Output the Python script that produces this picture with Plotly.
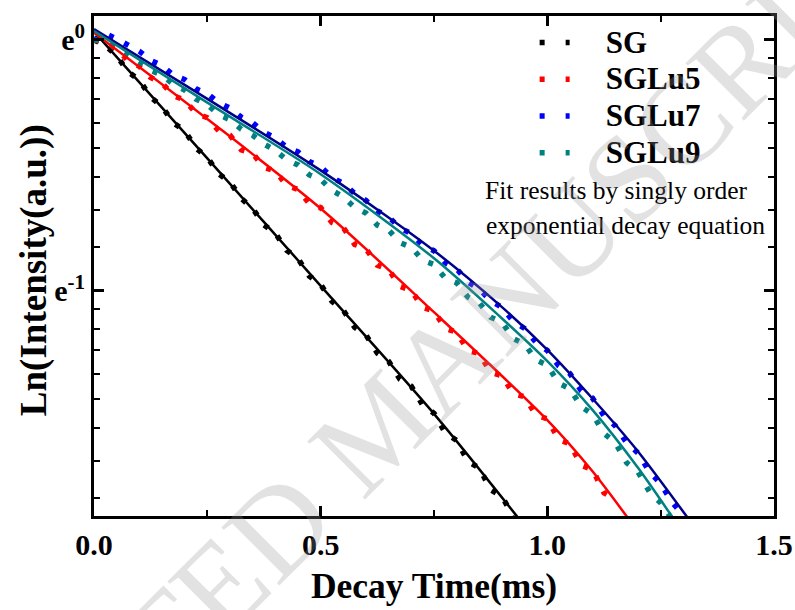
import numpy as np
import plotly.graph_objects as go

# ---------------- data (ln of normalized intensity vs decay time, ms) ----------------
TIME = [0.000, 0.025, 0.050, 0.075, 0.100, 0.125, 0.150, 0.175, 0.200, 0.225,
        0.250, 0.275, 0.300, 0.325, 0.350, 0.375, 0.400, 0.425, 0.450, 0.475,
        0.500, 0.525, 0.550, 0.575, 0.600, 0.625, 0.650, 0.675, 0.700, 0.725,
        0.750, 0.775, 0.800, 0.825, 0.850, 0.875, 0.900, 0.925, 0.950, 0.975,
        1.000, 1.025, 1.050, 1.075, 1.100, 1.125, 1.150, 1.175, 1.200, 1.225,
        1.250, 1.275, 1.300]

SG = [0.000, -0.022, -0.063, -0.127, -0.160, -0.228, -0.266, -0.330, -0.362, -0.431,
      -0.468, -0.534, -0.566, -0.632, -0.672, -0.737, -0.770, -0.838, -0.871, -0.941,
      -0.975, -1.042, -1.078, -1.145, -1.176, -1.248, -1.281, -1.352, -1.380, -1.455,
      -1.488, -1.566, -1.596, -1.680, -1.706, -1.792, -1.820, -1.898]

SGLU5 = [0.000, -0.010, -0.036, -0.082, -0.105, -0.150, -0.172, -0.222, -0.240, -0.292,
         -0.310, -0.362, -0.380, -0.438, -0.452, -0.508, -0.522, -0.580, -0.596, -0.652,
         -0.668, -0.728, -0.748, -0.815, -0.832, -0.898, -0.915, -0.982, -0.998, -1.066,
         -1.080, -1.150, -1.165, -1.238, -1.250, -1.325, -1.338, -1.410, -1.422, -1.495,
         -1.510, -1.592, -1.610, -1.695, -1.712, -1.805, -1.832]

SGLU7 = [0.000, 0.025, 0.004, -0.022, -0.045, -0.082, -0.102, -0.140, -0.158, -0.195,
         -0.214, -0.250, -0.272, -0.308, -0.330, -0.368, -0.390, -0.428, -0.446, -0.485,
         -0.505, -0.548, -0.572, -0.612, -0.640, -0.682, -0.705, -0.750, -0.772, -0.818,
         -0.840, -0.888, -0.912, -0.965, -0.992, -1.040, -1.066, -1.122, -1.150, -1.205,
         -1.238, -1.298, -1.330, -1.398, -1.428, -1.498, -1.538, -1.605, -1.646, -1.720,
         -1.768, -1.842, -1.895]

SGLU9 = [0.000, -0.002, -0.030, -0.058, -0.085, -0.122, -0.140, -0.178, -0.200, -0.236,
         -0.258, -0.298, -0.318, -0.356, -0.380, -0.415, -0.440, -0.478, -0.498, -0.538,
         -0.556, -0.600, -0.625, -0.668, -0.690, -0.738, -0.758, -0.808, -0.826, -0.878,
         -0.895, -0.950, -0.968, -1.025, -1.048, -1.105, -1.125, -1.190, -1.212, -1.275,
         -1.296, -1.368, -1.390, -1.462, -1.492, -1.568, -1.605, -1.685, -1.722, -1.800,
         -1.845, -1.910]

# single exponential fit curves (read at knots)
FIT_T_SG = [0.0, 0.25, 0.5, 0.75, 0.95]
FIT_SG = [0.033, -0.472, -0.980, -1.490, -1.937]
FIT_T_LU5 = [0.0, 0.25, 0.5, 0.75, 1.0, 1.1, 1.2]
FIT_LU5 = [0.029, -0.315, -0.672, -1.085, -1.515, -1.720, -1.960]
FIT_T_LU7 = [0.0, 0.25, 0.5, 0.75, 0.9, 1.0, 1.1, 1.2, 1.32]
FIT_LU7 = [0.043, -0.235, -0.520, -0.840, -1.065, -1.235, -1.430, -1.640, -1.930]
FIT_T_LU9 = [0.0, 0.25, 0.5, 0.75, 0.9, 1.0, 1.1, 1.2, 1.3]
FIT_LU9 = [0.035, -0.250, -0.535, -0.870, -1.110, -1.280, -1.475, -1.705, -1.966]

NAMES = ["SG", "SGLu5", "SGLu7", "SGLu9"]
DATA = [SG, SGLU5, SGLU7, SGLU9]
FIT_T = [FIT_T_SG, FIT_T_LU5, FIT_T_LU7, FIT_T_LU9]
FIT_Y = [FIT_SG, FIT_LU5, FIT_LU7, FIT_LU9]
DOT_COLORS = ["#000000", "#ff0000", "#0000ff", "#008080"]
FIT_COLORS = ["#000000", "#ff0000", "#00008b", "#008080"]

X_TICKS = [0.0, 0.5, 1.0, 1.5]
X_TICKTEXT = ["0.0", "0.5", "1.0", "1.5"]
X_MINOR = [0.25, 0.75, 1.25]
Y_TICKS = [0, -1]
Y_TICKTEXT = ["e<sup>0</sup>", "e<sup>-1</sup>"]

FONT = "Liberation Serif"

fig = go.Figure()

for name, ys, c in zip(NAMES, DATA, DOT_COLORS):
    fig.add_trace(go.Scatter(
        x=TIME[:len(ys)], y=ys, mode="lines", showlegend=False,
        line=dict(color=c, width=5.5, dash="5px,12px"), hoverinfo="skip"))

for ft, fy, c in zip(FIT_T, FIT_Y, FIT_COLORS):
    fig.add_trace(go.Scatter(
        x=ft, y=fy, mode="lines", showlegend=False,
        line=dict(color=c, width=2.5, shape="spline", smoothing=0.8), hoverinfo="skip"))

# legend entries (dotted samples)
for name, c in zip(NAMES, DOT_COLORS):
    fig.add_trace(go.Scatter(
        x=[None], y=[None], mode="lines",
        name='<span style="font-size:31px">\u00a0\u00a0\u00a0\u00a0' + name + "</span>",
        line=dict(color=c, width=5.5, dash="5px,21px")))

# minor tick positions of the ln axis (linear steps between e^0, e^-1, e^-2)
y_minor = []
for k in (0, -1):
    hi, lo = np.exp(k), np.exp(k - 1)
    for j in range(1, 9):
        y_minor.append(float(np.log(hi - j * (hi - lo) / 9)))

axis_common = dict(
    showline=True, linecolor="black", linewidth=3, mirror="allticks",
    ticks="inside", ticklen=10, tickwidth=2.5, tickcolor="black",
    showgrid=False, zeroline=False,
    tickfont=dict(family=FONT, size=30, color="black", weight="bold"),
)

fig.update_xaxes(
    range=[0, 1.5], tickmode="array", tickvals=X_TICKS, ticktext=X_TICKTEXT,
    minor=dict(tickmode="array", tickvals=X_MINOR, ticks="inside", ticklen=6,
               tickwidth=2, tickcolor="black"),
    title=dict(text="Decay Time(ms)", standoff=14,
               font=dict(family=FONT, size=35.5, color="black", weight="bold")),
    **axis_common)

fig.update_yaxes(
    range=[float(np.log(0.15)), float(np.log(1.1))], tickmode="array",
    tickvals=Y_TICKS, ticktext=Y_TICKTEXT,
    minor=dict(tickmode="array", tickvals=y_minor, ticks="inside", ticklen=6,
               tickwidth=2, tickcolor="black"),
    **axis_common)

fig.update_layout(
    width=795, height=610,
    margin=dict(l=94, r=21, t=16, b=94, autoexpand=False),
    paper_bgcolor="white", plot_bgcolor="white",
    font=dict(family=FONT, color="black"),
    legend=dict(x=0.648, y=0.994, xanchor="left", yanchor="top",
                bgcolor="rgba(0,0,0,0)", borderwidth=0,
                font=dict(family=FONT, size=26, color="black", weight="bold"),
                tracegroupgap=0, itemwidth=30),
    annotations=[
        dict(text="Ln(Intensity(a.u.))", xref="paper", yref="paper",
             x=-0.088, y=0.492, xanchor="center", yanchor="middle",
             showarrow=False, textangle=-90,
             font=dict(family=FONT, size=37, color="black", weight="bold")),
        dict(text="Fit results by singly order", xref="paper", yref="paper",
             x=0.769, y=0.652, xanchor="center", yanchor="middle", showarrow=False,
             font=dict(family=FONT, size=25.5, color="black")),
        dict(text="exponential decay equation", xref="paper", yref="paper",
             x=0.782, y=0.582, xanchor="center", yanchor="middle", showarrow=False,
             font=dict(family=FONT, size=25.5, color="black")),
        dict(text="ACCEPTED MANUSCRIPT", xref="paper", yref="paper",
             x=0.418, y=0.178, xanchor="center", yanchor="middle",
             showarrow=False, textangle=-45,
             font=dict(family=FONT, size=125, color="rgba(150,150,150,0.28)")),
    ],
)

fig.write_html("out.html")
